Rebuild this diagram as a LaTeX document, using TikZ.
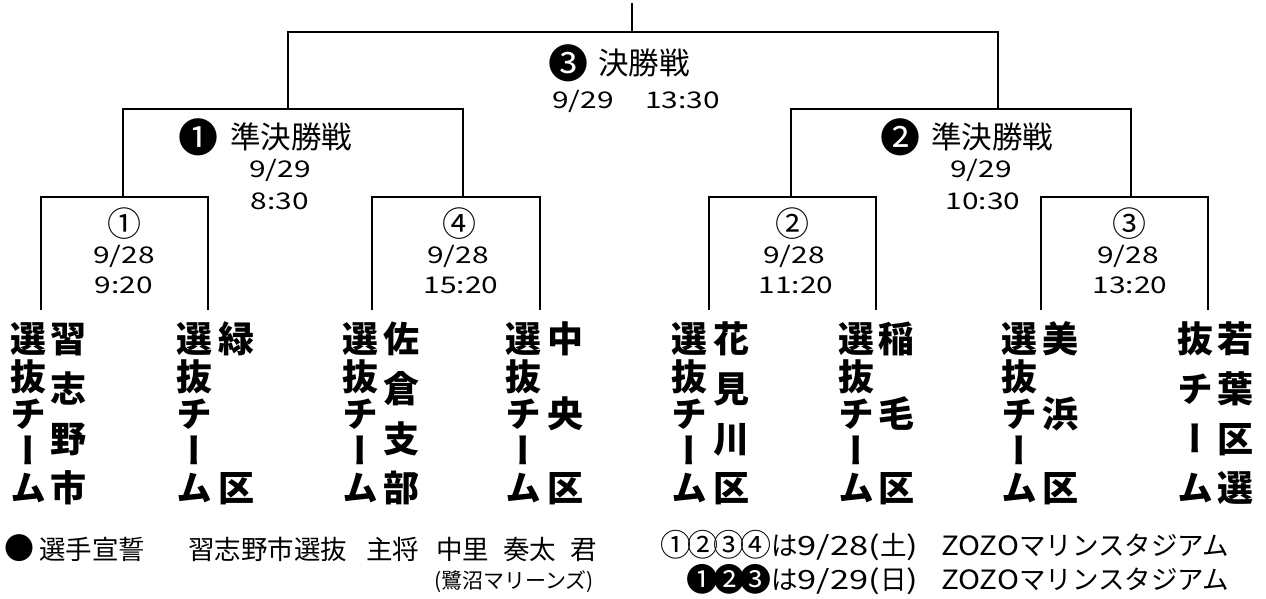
\documentclass[tikz,border=0pt]{standalone}
\usepackage{fontspec}
\newfontfamily\jp{Noto Sans CJK JP}
\newfontfamily\jpw{Noto Sans CJK JP}[FakeStretch=1.3]
\newfontfamily\jpz{Noto Sans CJK JP}[FakeStretch=1.12]
\newfontfamily\jpv{Noto Sans CJK JP}[RawFeature=+vert]
\newcommand{\teamcolumn}[4]{%
  \foreach \tch [count=\k] in {#4}{%
    \node[teamch] (#1-\k) at ({#2},{339+(\k-1)*149/(#3-1)}) {\tch};
  }%
}
\newcommand{\cdg}[1]{\makebox[26.5pt]{#1}}
\begin{document}
\begin{tikzpicture}[x=1pt,y=-1pt,
  bl/.style={line width=2pt},
  head/.style={inner sep=0pt,text height=25.3pt,text depth=2.1pt,font=\jp\fontsize{30.5}{30.5}\selectfont},
  headnum/.style={inner sep=0pt,text height=33.2pt,text depth=2.8pt,font=\jp\fontsize{40}{40}\selectfont},
  circ/.style={inner sep=0pt,text height=28.2pt,text depth=2.4pt,font=\jp\fontsize{34}{34}\selectfont},
  date/.style={inner sep=0pt,text height=16.8pt,text depth=0pt,font=\jpw\fontsize{23}{23}\selectfont},
  teamch/.style={inner sep=0pt,text height=31pt,text depth=3.5pt,font=\jpv\bfseries\fontsize{36}{36}\selectfont},
  note/.style={inner sep=0pt,text height=22pt,text depth=1.9pt,font=\jp\fontsize{26.5}{26.5}\selectfont},
  notecirc/.style={inner sep=0pt,text height=25.7pt,text depth=2.2pt,font=\jp\fontsize{31}{31}\selectfont},
  notenegc/.style={inner sep=0pt,text height=26.6pt,text depth=2.2pt,font=\jp\fontsize{32}{32}\selectfont},
  small/.style={inner sep=0pt,text height=17.4pt,text depth=1.5pt,font=\jp\fontsize{21}{21}\selectfont}]
\useasboundingbox (0,0) rectangle (1266,599);
% bracket coordinates
\coordinate (top) at (632,3);
\coordinate (F) at (632,32);
\coordinate (S1) at (288,109);
\coordinate (S2) at (998,109);
\coordinate (Q1) at (123,197);
\coordinate (Q4) at (463,197);
\coordinate (Q2) at (791,197);
\coordinate (Q3) at (1131,197);
\coordinate (T1a) at (41,310);
\coordinate (T1b) at (208,310);
\coordinate (T4a) at (372,310);
\coordinate (T4b) at (540,310);
\coordinate (T2a) at (709,310);
\coordinate (T2b) at (876,310);
\coordinate (T3a) at (1041,310);
\coordinate (T3b) at (1208,310);
\draw[bl] (T1a) |- (Q1) -| (T1b);
\draw[bl] (T4a) |- (Q4) -| (T4b);
\draw[bl] (T2a) |- (Q2) -| (T2b);
\draw[bl] (T3a) |- (Q3) -| (T3b);
\draw[bl] (Q1) |- (S1) -| (Q4);
\draw[bl] (Q2) |- (S2) -| (Q3);
\draw[bl] (S1) |- (F) -| (S2);
\draw[bl] (F) -- (top);
% final
\node[headnum] (fnum) at (568,63) {❸};
\node[head,anchor=west] (ftitle) at (598,63) {決勝戦};
\node[date,anchor=west] (fdate) at (552,100) {9/29};
\node[date,anchor=west] (ftime) at (645,100) {13:30};
% semi 1
\node[headnum] (s1num) at (198,137) {❶};
\node[head,anchor=west] (s1title) at (230,137) {準決勝戦};
\node[date] (s1date) at (280,169) {9/29};
\node[date] (s1time) at (280,201) {8:30};
% semi 2
\node[headnum] (s2num) at (900,137) {❷};
\node[head,anchor=west] (s2title) at (931,137) {準決勝戦};
\node[date] (s2date) at (981,169) {9/29};
\node[date] (s2time) at (983,201) {10:30};
% quarters
\node[circ] (q1num) at (124,224) {①};
\node[date] (q1date) at (124,255) {9/28};
\node[date] (q1time) at (124,285) {9:20};
\node[circ] (q4num) at (459,224) {④};
\node[date] (q4date) at (458,255) {9/28};
\node[date] (q4time) at (461,285) {15:20};
\node[circ] (q2num) at (792,224) {②};
\node[date] (q2date) at (794,255) {9/28};
\node[date] (q2time) at (796,285) {11:20};
\node[circ] (q3num) at (1129,224) {③};
\node[date] (q3date) at (1128,255) {9/28};
\node[date] (q3time) at (1130,285) {13:20};
% teams
\teamcolumn{t1l}{28}{5}{選,抜,チ,ー,ム}
\teamcolumn{t1r}{68}{4}{習,志,野,市}
\teamcolumn{t2l}{194}{5}{選,抜,チ,ー,ム}
\teamcolumn{t2r}{236}{2}{緑,区}
\teamcolumn{t3l}{360}{5}{選,抜,チ,ー,ム}
\teamcolumn{t3r}{401}{4}{佐,倉,支,部}
\teamcolumn{t4l}{523}{5}{選,抜,チ,ー,ム}
\teamcolumn{t4r}{565}{3}{中,央,区}
\teamcolumn{t5l}{689}{5}{選,抜,チ,ー,ム}
\teamcolumn{t5r}{731}{4}{花,見,川,区}
\teamcolumn{t6l}{856}{5}{選,抜,チ,ー,ム}
\teamcolumn{t6r}{896}{3}{稲,毛,区}
\teamcolumn{t7l}{1019}{5}{選,抜,チ,ー,ム}
\teamcolumn{t7r}{1060}{3}{美,浜,区}
\teamcolumn{t8l}{1195}{4}{抜,チ,ー,ム}
\teamcolumn{t8r}{1235}{4}{若,葉,区,選}
% bottom left
\node[note,font=\jp\fontsize{30}{30}\selectfont] (dot) at (19.5,549) {●};
\node[note,anchor=west] (oath) at (39,549) {選手宣誓};
\node[note,anchor=west] (team) at (188,549) {習志野市選抜};
\node[note,anchor=west] (capt) at (366,549) {主将};
\node[note,anchor=west] (fam) at (436,549) {中里};
\node[note,anchor=west] (given) at (503,549) {奏太};
\node[note,anchor=west] (kun) at (570,549) {君};
\node[small,anchor=east] (club) at (594,581) {(鷺沼マリーンズ)};
% bottom right
\node[notecirc,anchor=east] (l1c) at (769,545) {\cdg{①}\cdg{②}\cdg{③}\cdg{④}};
\node[note,anchor=west] (l1d) at (771,545) {は{\jpw 9/28(}土{\jpw )}};
\node[note,anchor=west] (l1v) at (941,545) {{\jpz ZOZO}マリンスタジアム};
\node[notenegc,anchor=east] (l2c) at (769,579) {\cdg{❶}\cdg{❷}\cdg{❸}};
\node[note,anchor=west] (l2d) at (771,579) {は{\jpw 9/29(}日{\jpw )}};
\node[note,anchor=west] (l2v) at (941,579) {{\jpz ZOZO}マリンスタジアム};
\end{tikzpicture}
\end{document}
